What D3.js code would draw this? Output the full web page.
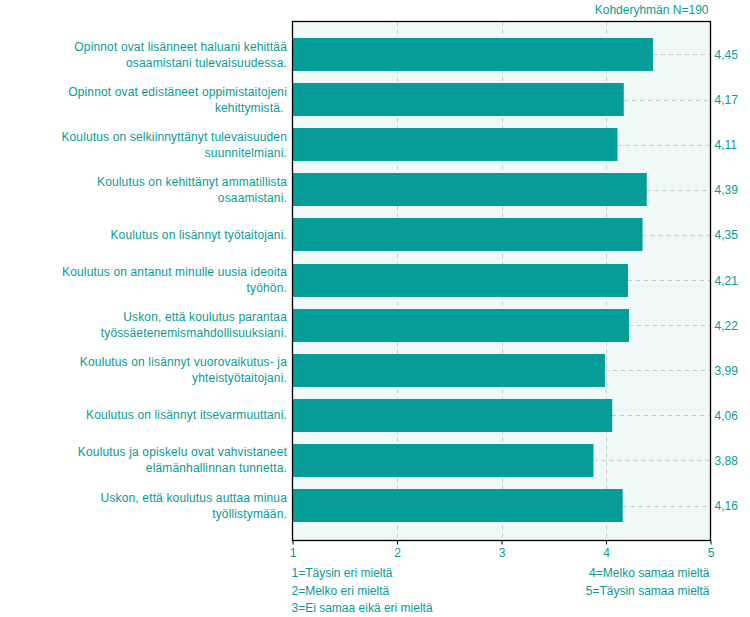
<!DOCTYPE html>
<html>
<head>
<meta charset="utf-8">
<script src="https://cdn.jsdelivr.net/npm/d3@7"></script>
<style>
  html, body { margin: 0; padding: 0; background: #ffffff; }
  svg { display: block; font-family: "Liberation Sans", Arial, sans-serif; }
</style>
</head>
<body>
<svg id="chart" width="750" height="617"></svg>
<script>
const categories = [
  "Opinnot ovat lisänneet haluani kehittää\nosaamistani tulevaisuudessa.",
  "Opinnot ovat edistäneet oppimistaitojeni\nkehittymistä. ",
  "Koulutus on selkiinnyttänyt tulevaisuuden\nsuunnitelmiani.",
  "Koulutus on kehittänyt ammatillista\nosaamistani.",
  "Koulutus on lisännyt työtaitojani.",
  "Koulutus on antanut minulle uusia ideoita\ntyöhön.",
  "Uskon, että koulutus parantaa\ntyössäetenemismahdollisuuksiani.",
  "Koulutus on lisännyt vuorovaikutus- ja\nyhteistyötaitojani.",
  "Koulutus on lisännyt itsevarmuuttani.",
  "Koulutus ja opiskelu ovat vahvistaneet\nelämänhallinnan tunnetta.",
  "Uskon, että koulutus auttaa minua\ntyöllistymään."
];
const values = [4.45, 4.17, 4.11, 4.39, 4.35, 4.21, 4.22, 3.99, 4.06, 3.88, 4.16];
const valueLabels = ["4,45", "4,17", "4,11", "4,39", "4,35", "4,21", "4,22", "3,99", "4,06", "3,88", "4,16"];
const tickValues = [1, 2, 3, 4, 5];
const title = "Kohderyhmän N=190";
const legendLeft = ["1=Täysin eri mieltä", "2=Melko eri mieltä", "3=Ei samaa eikä eri mieltä"];
const legendRight = ["4=Melko samaa mieltä", "5=Täysin samaa mieltä"];

const teal = "#069c98";
const textTeal = "#089a95";
const bgTint = "#f1f9f8";
const gridCol = "#c8c8c8";

const svg = d3.select("#chart");
const pLeft = 292.5, pRight = 710.5, pTop = 21.5, pBottom = 540.5;

const x = d3.scaleLinear().domain([1, 5]).range([pLeft, pRight]);
const step = 45.1;
const yStart = 54.5 - step / 2;
const y = d3.scaleBand()
  .domain(d3.range(categories.length))
  .range([yStart, yStart + step * categories.length])
  .paddingInner(1 - 33 / step)
  .paddingOuter((1 - 33 / step) / 2);

// title
svg.append("text")
  .attr("x", pRight - 2).attr("y", 14)
  .attr("text-anchor", "end")
  .attr("fill", textTeal)
  .attr("font-size", 12)
  .text(title);

// plot background
svg.append("rect")
  .attr("x", pLeft).attr("y", pTop)
  .attr("width", pRight - pLeft).attr("height", pBottom - pTop)
  .attr("fill", bgTint);

// vertical grid
svg.append("g").selectAll("line")
  .data(tickValues.filter(d => d > 1 && d < 5))
  .join("line")
  .attr("x1", d => Math.round(x(d)) + 0.5).attr("x2", d => Math.round(x(d)) + 0.5)
  .attr("y1", pTop).attr("y2", pBottom)
  .attr("stroke", gridCol).attr("stroke-dasharray", "4,4");

// horizontal dashed lines from bar end to right frame
svg.append("g").selectAll("line")
  .data(values)
  .join("line")
  .attr("x1", d => x(d)).attr("x2", pRight)
  .attr("y1", (d, i) => Math.round(y(i) + y.bandwidth() / 2) + 0.5)
  .attr("y2", (d, i) => Math.round(y(i) + y.bandwidth() / 2) + 0.5)
  .attr("stroke", gridCol).attr("stroke-dasharray", "4,4");

// bars
svg.append("g").selectAll("rect")
  .data(values)
  .join("rect")
  .attr("x", pLeft)
  .attr("y", (d, i) => Math.round(y(i)))
  .attr("width", d => x(d) - pLeft)
  .attr("height", Math.round(y.bandwidth()))
  .attr("fill", teal);

// frame
svg.append("rect")
  .attr("x", pLeft).attr("y", pTop)
  .attr("width", pRight - pLeft).attr("height", pBottom - pTop)
  .attr("fill", "none").attr("stroke", "#000").attr("stroke-width", 1.3);

// x axis
const xAxis = d3.axisBottom(x).tickValues(tickValues).tickFormat(d3.format("d")).tickSize(4).tickPadding(4);
const ax = svg.append("g").attr("transform", `translate(0,${pBottom})`).call(xAxis);
ax.select(".domain").remove();
ax.selectAll(".tick line").attr("stroke", "#000");
ax.selectAll(".tick text").attr("fill", textTeal).attr("font-size", 12).attr("font-family", "Liberation Sans, Arial, sans-serif");

// category labels
const lab = svg.append("g").selectAll("text")
  .data(categories)
  .join("text")
  .attr("text-anchor", "end")
  .attr("fill", textTeal)
  .attr("font-size", 12)
  .attr("letter-spacing", 0.15);
lab.each(function(d, i) {
  const lines = d.split("\n");
  const cy = y(i) + y.bandwidth() / 2;
  const lh = 16;
  const t = d3.select(this);
  lines.forEach((ln, k) => {
    t.append("tspan")
      .attr("x", 287)
      .attr("y", cy + (k - (lines.length - 1) / 2) * lh + 4)
      .attr("xml:space", "preserve")
      .text(ln);
  });
});

// value labels
svg.append("g").selectAll("text")
  .data(values)
  .join("text")
  .attr("x", pRight + 4)
  .attr("y", (d, i) => y(i) + y.bandwidth() / 2 + 4.5)
  .attr("fill", textTeal)
  .attr("font-size", 12)
  .text((d, i) => valueLabels[i]);

// legend
svg.append("g").selectAll("text")
  .data(legendLeft)
  .join("text")
  .attr("x", pLeft - 1)
  .attr("y", (d, i) => 577 + i * 17.5)
  .attr("fill", textTeal)
  .attr("font-size", 12)
  .text(d => d);
svg.append("g").selectAll("text")
  .data(legendRight)
  .join("text")
  .attr("x", pRight - 1)
  .attr("y", (d, i) => 577 + i * 17.5)
  .attr("text-anchor", "end")
  .attr("fill", textTeal)
  .attr("font-size", 12)
  .text(d => d);
</script>
</body>
</html>
